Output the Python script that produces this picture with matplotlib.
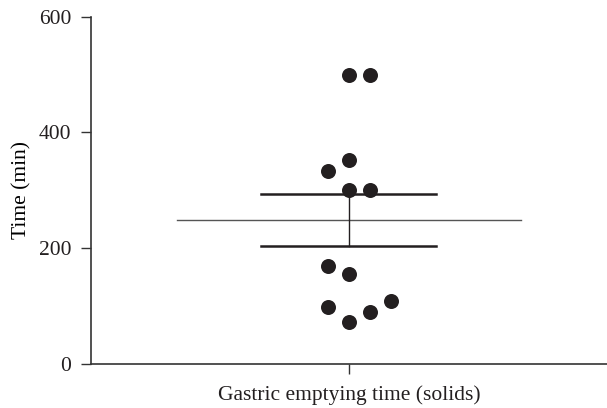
import numpy as np
import matplotlib
matplotlib.use("Agg")
import matplotlib.pyplot as plt

category = "Gastric emptying time (solids)"
values = [500, 500, 353, 334, 300, 300, 170, 156, 98, 72, 89, 108]
# horizontal jitter slot of each point (beeswarm column)
slots = [0, 1, 0, -1, 0, 1, -1, 0, -1, 0, 1, 2]
yticks = [0, 200, 400, 600]

plt.rcParams['font.family'] = ['Liberation Serif', 'DejaVu Serif']
dark = '#231f20'

fig = plt.figure(figsize=(6.07, 4.08), dpi=100)
ax = fig.add_axes([0.1494, 0.108, 0.8506, 0.851])

vals = np.array(values, dtype=float)
mean = vals.mean()
sem = vals.std(ddof=1) / np.sqrt(len(vals))

step = 0.0813
xs = np.array(slots) * step
ax.plot(xs, vals, 'o', color=dark, markersize=10.8, markeredgewidth=0, zorder=3)

ax.plot([-0.666, 0.666], [mean, mean], color='#555555', lw=1.0, zorder=2)
ax.plot([-0.339, 0.339], [mean + sem, mean + sem], color=dark, lw=1.8, zorder=2)
ax.plot([-0.339, 0.339], [mean - sem, mean - sem], color=dark, lw=1.8, zorder=2)
ax.plot([0, 0], [mean - sem, mean + sem], color=dark, lw=1.0, zorder=2)

ax.set_xlim(-1, 1)
ax.set_ylim(0, 600)
ax.set_yticks(yticks)
ax.set_xticks([0])
ax.set_xticklabels([category])
ax.set_ylabel("Time (min)", fontsize=15.5, labelpad=5)

for s in ['top', 'right']:
    ax.spines[s].set_visible(False)
for s in ['left', 'bottom']:
    ax.spines[s].set_color('#333333')
    ax.spines[s].set_linewidth(1.2)
ax.tick_params(axis='y', length=7, width=1.0, color='#333333', pad=7, labelsize=15.5, labelcolor=dark)
ax.tick_params(axis='x', length=7, width=1.0, color='#333333', pad=8, labelsize=15.5, labelcolor=dark)

fig.savefig("out.png", dpi=100)
